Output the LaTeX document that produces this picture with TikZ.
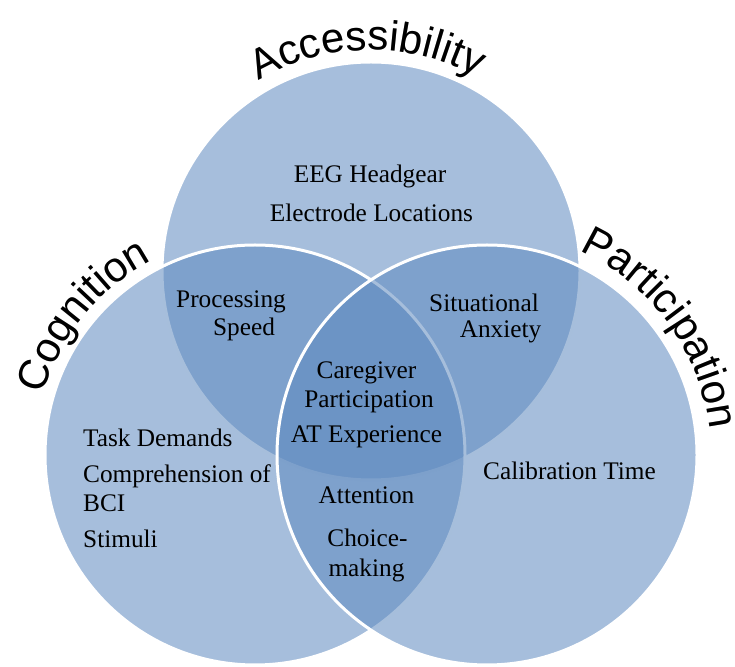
\documentclass[tikz,border=0pt]{standalone}
\usepackage{fontspec}
\setmainfont{Liberation Serif}
\newfontfamily\labelfont{Liberation Sans}
\usetikzlibrary{decorations.text}
\definecolor{vennblue}{RGB}{93,137,191}
\begin{document}
\begin{tikzpicture}[x=1pt,y=1pt,
  setcircle/.style={fill=vennblue, fill opacity=0.55, draw=white, line width=3pt},
  item/.style={inner sep=0pt, font=\fontsize{25.3}{29}\selectfont, anchor=base},
  itemw/.style={item, anchor=base west},
  arclabel/.style={decorate, decoration={text along path, text align=center, text={#1}}},
]
\useasboundingbox (0,0) rectangle (735,666);
\coordinate (T) at (371,395);
\coordinate (L) at (255,211);
\coordinate (R) at (487,211);
% circles
\path[setcircle] (T) circle[radius=209];
\path[setcircle] (L) circle[radius=210];
\path[setcircle] (R) circle[radius=210];
% curved labels with shadow
\path[arclabel={|\color{black!30}\labelfont\fontsize{42}{44}\selectfont|Accessibility}, shift={(1.5,-2)}]
  ([shift={(151:221)}]T) arc[start angle=151, end angle=31, radius=221];
\path[arclabel={|\color{black}\labelfont\fontsize{42}{44}\selectfont|Accessibility}]
  ([shift={(151:221)}]T) arc[start angle=151, end angle=31, radius=221];
\path[arclabel={|\color{black!30}\labelfont\fontsize{42}{44}\selectfont|Cognition}, shift={(1.5,-2)}]
  ([shift={(201:220)}]L) arc[start angle=201, end angle=81, radius=220];
\path[arclabel={|\color{black}\labelfont\fontsize{42}{44}\selectfont|Cognition}]
  ([shift={(201:220)}]L) arc[start angle=201, end angle=81, radius=220];
\path[arclabel={|\color{black!30}\labelfont\fontsize{42}{44}\selectfont|Participation}, shift={(1.5,-2)}]
  ([shift={(96:224)}]R) arc[start angle=96, end angle=-24, radius=224];
\path[arclabel={|\color{black}\labelfont\fontsize{42}{44}\selectfont|Participation}]
  ([shift={(96:224)}]R) arc[start angle=96, end angle=-24, radius=224];
% items
\node[item] (eeg) at (370,483) {EEG Headgear};
\node[item] (elec) at (371.5,444) {Electrode Locations};
\node[item] (proc) at (231,358) {Processing};
\node[item] (speed) at (244,330) {Speed};
\node[item] (situ) at (484,354) {Situational};
\node[item] (anx) at (500.5,328) {Anxiety};
\node[item] (care) at (366.5,287) {Caregiver};
\node[item] (part) at (369,258) {Participation};
\node[item] (atexp) at (366.5,223) {AT Experience};
\node[itemw] (task) at (83,219) {Task Demands};
\node[itemw] (comp) at (83,183) {Comprehension of};
\node[itemw] (bci) at (83,154) {BCI};
\node[itemw] (stim) at (83,118) {Stimuli};
\node[itemw] (calib) at (483,186) {Calibration Time};
\node[item] (att) at (366.5,162) {Attention};
\node[item] (choice) at (367.5,119) {Choice-};
\node[item] (making) at (366.5,90) {making};
\end{tikzpicture}
\end{document}
